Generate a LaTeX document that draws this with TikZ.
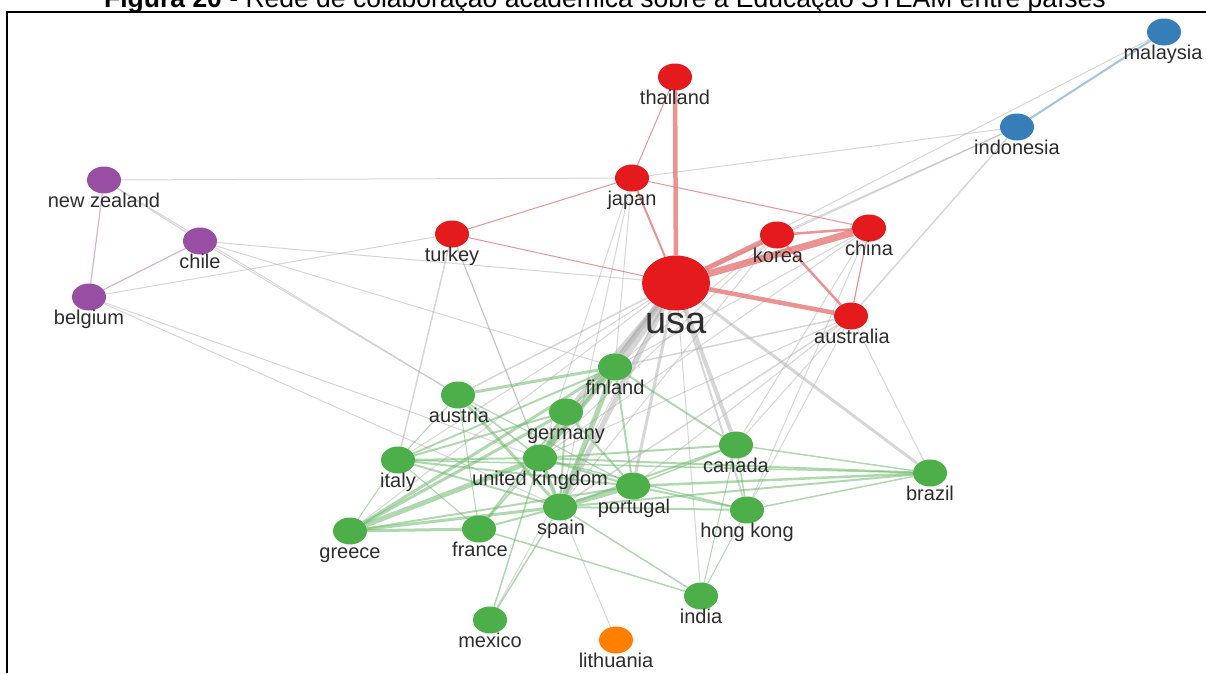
\documentclass[tikz,border=0pt]{standalone}
\usepackage{fontspec}
\setmainfont{Liberation Sans}
\usetikzlibrary{shapes.geometric,backgrounds}
\definecolor{cred}{RGB}{228,26,28}
\definecolor{cgreen}{RGB}{77,175,74}
\definecolor{cblue}{RGB}{55,126,184}
\definecolor{cpurple}{RGB}{152,78,163}
\definecolor{corange}{RGB}{255,127,0}
\definecolor{txt}{RGB}{45,45,45}
\definecolor{ered}{RGB}{230,120,120}
\definecolor{egreen}{RGB}{110,185,108}
\definecolor{egray}{RGB}{175,175,175}
\definecolor{eblue}{RGB}{140,180,220}
\definecolor{epurple}{RGB}{200,160,205}
\begin{document}
\begin{tikzpicture}[x=1pt,y=-1pt,
  nd/.style={ellipse,minimum width=34pt,minimum height=27pt,inner sep=0pt,fill=#1},
  lab/.style={font=\fontsize{20}{20}\selectfont,text=txt,inner sep=0pt,anchor=base},
  er/.style={draw=ered,opacity=0.8,line width=#1},
  eg/.style={draw=egreen,opacity=0.55,line width=#1},
  ey/.style={draw=egray,opacity=0.5,line width=#1},
  eb/.style={draw=eblue,opacity=0.8,line width=#1},
  ep/.style={draw=epurple,opacity=0.8,line width=#1}]
\useasboundingbox (0,0) rectangle (1206,673);
\node[font=\fontsize{26.5}{26.5}\selectfont,anchor=base,inner sep=0pt] (title) at (605,7)
  {\textbf{Figura 20} - Rede de colaboração acadêmica sobre a Educação STEAM entre países};
\draw[line width=2.5pt] (7,673) -- (7,12) -- (1206,12);
% nodes
\node[nd=cblue] (malaysia) at (1164,32) {};
\node[nd=cblue] (indonesia) at (1017,127) {};
\node[nd=cred] (thailand) at (675,77) {};
\node[nd=cred] (japan) at (632,178) {};
\node[nd=cred] (turkey) at (452,234) {};
\node[nd=cred] (korea) at (777,235) {};
\node[nd=cred] (china) at (869,228) {};
\node[nd=cred,minimum width=68pt,minimum height=55pt] (usa) at (676,283) {};
\node[nd=cred] (australia) at (851,316) {};
\node[nd=cpurple] (nz) at (104,180) {};
\node[nd=cpurple] (chile) at (200,241) {};
\node[nd=cpurple] (belgium) at (89,297) {};
\node[nd=cgreen] (finland) at (615,367) {};
\node[nd=cgreen] (austria) at (458,395) {};
\node[nd=cgreen] (germany) at (566,412) {};
\node[nd=cgreen] (canada) at (736,445) {};
\node[nd=cgreen] (italy) at (398,460) {};
\node[nd=cgreen] (uk) at (540,458) {};
\node[nd=cgreen] (portugal) at (633,486) {};
\node[nd=cgreen] (spain) at (560,507) {};
\node[nd=cgreen] (brazil) at (930,473) {};
\node[nd=cgreen] (hk) at (747,510) {};
\node[nd=cgreen] (greece) at (350,531) {};
\node[nd=cgreen] (france) at (479,529) {};
\node[nd=cgreen] (india) at (701,596) {};
\node[nd=cgreen] (mexico) at (490,620) {};
\node[nd=corange] (lithuania) at (616,640) {};
% labels
\node[lab] (l-malaysia) at (1163,59) {malaysia};
\node[lab] (l-indonesia) at (1017,154) {indonesia};
\node[lab] (l-thailand) at (675,104) {thailand};
\node[lab] (l-japan) at (632,205) {japan};
\node[lab] (l-turkey) at (452,261) {turkey};
\node[lab] (l-korea) at (778,262) {korea};
\node[lab] (l-china) at (869,255) {china};
\node[lab,font=\fontsize{38}{38}\selectfont] (l-usa) at (676,333) {usa};
\node[lab] (l-australia) at (852,343) {australia};
\node[lab] (l-nz) at (104,207) {new zealand};
\node[lab] (l-chile) at (200,268) {chile};
\node[lab] (l-belgium) at (89,324) {belgium};
\node[lab] (l-finland) at (615,394) {finland};
\node[lab] (l-austria) at (459,422) {austria};
\node[lab] (l-germany) at (566,439) {germany};
\node[lab] (l-canada) at (736,472) {canada};
\node[lab] (l-italy) at (398,487) {italy};
\node[lab] (l-uk) at (540,485) {united kingdom};
\node[lab] (l-portugal) at (634,513) {portugal};
\node[lab] (l-spain) at (561,534) {spain};
\node[lab] (l-brazil) at (930,500) {brazil};
\node[lab] (l-hk) at (747,537) {hong kong};
\node[lab] (l-greece) at (350,558) {greece};
\node[lab] (l-france) at (480,556) {france};
\node[lab] (l-india) at (701,623) {india};
\node[lab] (l-mexico) at (490,647) {mexico};
\node[lab] (l-lithuania) at (616,667) {lithuania};
\begin{pgfonlayer}{background}
\fill[white] (0,0) rectangle (1206,673);
% gray cross-cluster edges
\draw[ey=1] (malaysia) -- (usa);
\draw[ey=1] (indonesia) -- (japan);
\draw[ey=1.2] (indonesia) -- (usa);
\draw[ey=1] (indonesia) -- (korea);
\draw[ey=1.5] (indonesia) -- (australia);
\draw[ey=1] (nz) -- (japan);
\draw[ey=1.2] (nz) -- (chile);
\draw[ey=1] (nz) -- (austria);
\draw[ey=1] (chile) -- (usa);
\draw[ey=1] (chile) -- (finland);
\draw[ey=1] (chile) -- (austria);
\draw[ey=1] (belgium) -- (turkey);
\draw[ey=1] (belgium) -- (uk);
\draw[ey=1] (belgium) -- (spain);
\draw[ey=10] (usa) -- (finland);
\draw[ey=4] (usa) -- (germany);
\draw[ey=5] (usa) -- (uk);
\draw[ey=5] (usa) -- (spain);
\draw[ey=3] (usa) -- (portugal);
\draw[ey=4] (usa) -- (canada);
\draw[ey=3] (usa) -- (brazil);
\draw[ey=2] (usa) -- (hk);
\draw[ey=1] (usa) -- (india);
\draw[ey=1.5] (usa) -- (austria);
\draw[ey=1] (usa) -- (italy);
\draw[ey=1] (usa) -- (greece);
\draw[ey=1] (usa) -- (france);
\draw[ey=1] (usa) -- (mexico);
\draw[ey=1] (japan) -- (finland);
\draw[ey=1] (japan) -- (spain);
\draw[ey=1] (japan) -- (uk);
\draw[ey=1.5] (turkey) -- (italy);
\draw[ey=1] (turkey) -- (uk);
\draw[ey=1] (turkey) -- (spain);
\draw[ey=1] (korea) -- (finland);
\draw[ey=1] (korea) -- (uk);
\draw[ey=1] (korea) -- (spain);
\draw[ey=1] (china) -- (finland);
\draw[ey=1] (china) -- (uk);
\draw[ey=1] (china) -- (canada);
\draw[ey=1] (china) -- (hk);
\draw[ey=1.5] (australia) -- (finland);
\draw[ey=1] (australia) -- (uk);
\draw[ey=1.5] (australia) -- (spain);
\draw[ey=1] (australia) -- (portugal);
\draw[ey=1] (australia) -- (canada);
\draw[ey=1] (australia) -- (hk);
\draw[ey=1] (australia) -- (brazil);
\draw[ey=1] (spain) -- (lithuania);
% red
\draw[er=4.5] (usa) -- (thailand);
\draw[er=1] (thailand) -- (japan);
\draw[er=2] (japan) -- (usa);
\draw[er=1] (japan) -- (turkey);
\draw[er=1] (japan) -- (china);
\draw[er=1] (turkey) -- (usa);
\draw[er=5] (usa) -- (korea);
\draw[er=7] (usa) -- (china);
\draw[er=2.5] (korea) -- (china);
\draw[er=2.5] (korea) -- (australia);
\draw[er=1.2] (china) -- (australia);
\draw[er=4.5] (usa) -- (australia);
% blue / purple
\draw[eb=2] (indonesia) -- (malaysia);
\draw[ep=1.2] (nz) -- (belgium);
\draw[ep=1.2] (chile) -- (belgium);
% green
\draw[eg=3] (austria) -- (finland);
\draw[eg=3] (austria) -- (spain);
\draw[eg=1.5] (austria) -- (uk);
\draw[eg=1.2] (austria) -- (portugal);
\draw[eg=1] (austria) -- (italy);
\draw[eg=1] (austria) -- (france);
\draw[eg=2] (italy) -- (finland);
\draw[eg=2] (italy) -- (germany);
\draw[eg=2] (italy) -- (uk);
\draw[eg=2] (italy) -- (portugal);
\draw[eg=2] (italy) -- (spain);
\draw[eg=1] (italy) -- (france);
\draw[eg=1] (italy) -- (greece);
\draw[eg=1.5] (italy) -- (brazil);
\draw[eg=5] (greece) -- (uk);
\draw[eg=3] (greece) -- (germany);
\draw[eg=3] (greece) -- (finland);
\draw[eg=3] (greece) -- (spain);
\draw[eg=2] (greece) -- (portugal);
\draw[eg=3] (greece) -- (france);
\draw[eg=4] (uk) -- (spain);
\draw[eg=4] (uk) -- (germany);
\draw[eg=4] (uk) -- (finland);
\draw[eg=2] (uk) -- (portugal);
\draw[eg=2] (uk) -- (canada);
\draw[eg=2] (uk) -- (brazil);
\draw[eg=1.5] (uk) -- (hk);
\draw[eg=5] (spain) -- (finland);
\draw[eg=2] (spain) -- (germany);
\draw[eg=5] (spain) -- (portugal);
\draw[eg=2] (spain) -- (canada);
\draw[eg=2] (spain) -- (hk);
\draw[eg=2] (spain) -- (brazil);
\draw[eg=2] (spain) -- (france);
\draw[eg=1.5] (spain) -- (india);
\draw[eg=1.5] (spain) -- (mexico);
\draw[eg=2] (portugal) -- (finland);
\draw[eg=2] (portugal) -- (germany);
\draw[eg=2.5] (portugal) -- (brazil);
\draw[eg=1.5] (portugal) -- (canada);
\draw[eg=2] (portugal) -- (hk);
\draw[eg=2] (finland) -- (canada);
\draw[eg=2] (finland) -- (germany);
\draw[eg=1.5] (canada) -- (brazil);
\draw[eg=1.5] (canada) -- (hk);
\draw[eg=1.5] (hk) -- (brazil);
\draw[eg=1.5] (france) -- (uk);
\draw[eg=1.5] (france) -- (germany);
\draw[eg=1.5] (france) -- (india);
\draw[eg=1.5] (mexico) -- (uk);
\draw[eg=1] (hk) -- (india);
\draw[eg=1] (canada) -- (india);
\end{pgfonlayer}
\end{tikzpicture}
\end{document}
